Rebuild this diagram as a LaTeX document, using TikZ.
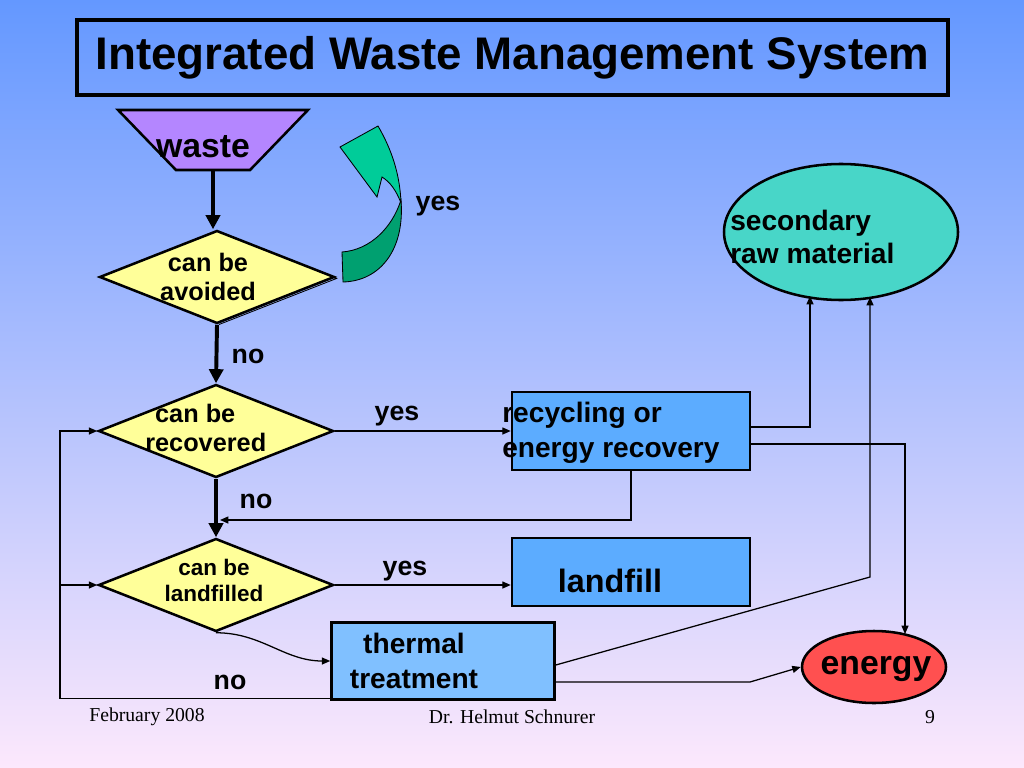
\documentclass[tikz,border=0pt]{standalone}
\usepackage{fontspec}
\setmainfont{Liberation Sans}
\newfontfamily\footfont{Liberation Serif}
\usetikzlibrary{shapes,arrows.meta,calc,positioning}

\newlength\px
\setlength\px{0.025cm}
\newcommand{\fsize}[2]{\fontsize{#1}{#2}\selectfont}

\definecolor{bgtop}{RGB}{100,152,255}
\definecolor{bgmid}{RGB}{196,198,250}
\definecolor{bgbot}{RGB}{252,232,252}
\definecolor{wastepurple}{RGB}{180,134,255}
\definecolor{dyellow}{RGB}{255,255,153}
\definecolor{boxblue}{RGB}{92,172,255}
\definecolor{thermblue}{RGB}{128,192,255}
\definecolor{rawgreen}{RGB}{72,214,200}
\definecolor{energyred}{RGB}{255,80,80}
\definecolor{arrowlight}{RGB}{0,204,153}
\definecolor{arrowdark}{RGB}{0,160,112}

\begin{document}
\begin{tikzpicture}[x=\px, y=-\px,
decision/.style={draw, diamond, fill=dyellow, line width=1.8pt, minimum width=235\px, minimum height=93\px, inner sep=0pt},
box/.style={draw, rectangle, line width=1.8pt, fill=boxblue, minimum width=238\px, minimum height=78\px},
dtext/.style={font=\fsize{18pt}{21pt}\bfseries, align=center, inner sep=0pt},
btext/.style={font=\fsize{20pt}{25pt}\bfseries, align=left, inner sep=0pt},
lbl/.style={font=\fsize{19pt}{21pt}\bfseries, inner sep=0pt},
foot/.style={font=\footfont\fsize{14pt}{16pt}, inner sep=0pt},
flow/.style={line width=2.8pt, -{Triangle[length=10pt,width=10pt]}},
link/.style={line width=0.9pt, -{Triangle[length=6pt,width=5pt]}}
]
  % background
  \fill[top color=bgtop, middle color=bgmid, bottom color=bgbot] (0,0) rectangle (1024,768);

  \node [draw, line width=2.2pt, minimum width=871\px, minimum height=75\px,
    font=\fsize{32.5pt}{36pt}\bfseries] (title) at (512.5,57.5) {Integrated Waste Management System};

  \node [draw, trapezium, shape border rotate=180, trapezium angle=52, trapezium stretches=true,
    fill=wastepurple, line width=1.8pt, minimum width=190\px, minimum height=60\px] (waste) at (213,140) {};
  \node [font=\fsize{24pt}{26pt}\bfseries, inner sep=0pt] (wastet) at (203,147) {waste};

  % decisions
  \draw[line width=0.6pt] (219,231.5) -- (336.5,278.5) -- (219,324.5);
  \node [decision] (d1) at (217,277) {};
  \node [dtext] (d1t) at (208,277) {can be\\avoided};
  \node [decision] (d2) at (216,431) {};
  \node [dtext, align=left, anchor=west] (d2t) at (145,428) {\hspace*{7pt}can be\\recovered};
  \node [decision] (d3) at (216,585) {};
  \node [dtext, font=\fsize{16pt}{18.5pt}\bfseries] (d3t) at (214,580) {can be\\landfilled};

  % boxes
  \node [box] (rec) at (631,431) {};
  \node [btext, anchor=west] (rect) at (502,433) {recycling or\\energy recovery};
  \node [box, minimum height=68\px] (lnd) at (631,572) {};
  \node [btext, font=\fsize{23pt}{25pt}\bfseries] (lndt) at (610,581) {landfill};
  \node [box, fill=thermblue, minimum width=223\px, minimum height=77\px] (thr) at (443,661) {};
  \node [btext, align=center] (thrt) at (414,661) {thermal\\treatment};

  % results
  \node [draw, ellipse, fill=rawgreen, line width=1.8pt, minimum width=234\px, minimum height=136\px] (sec) at (841,232) {};
  \node [btext, font=\fsize{20pt}{23.5pt}\bfseries, anchor=west] (sect) at (730,237) {secondary\\raw material};
  \node [draw, ellipse, fill=energyred, line width=1.8pt, minimum width=144\px, minimum height=72\px] (en) at (874,667) {};
  \node [btext, font=\fsize{24pt}{26pt}\bfseries] (ent) at (876,669) {energy};

  % green turn arrow
  \draw[fill=arrowlight, line width=0.6pt] (340,147) -- (378,126) .. controls (392,150) and (400,175) .. (401,203)
    .. controls (396,190) and (390,182) .. (382,177) -- (377,197) -- cycle;
  \draw[fill=arrowdark, line width=0.6pt] (401,200) .. controls (405,250) and (380,281) .. (343,282) -- (342,252)
    .. controls (370,250) and (392,228) .. (401,200) -- cycle;

  % main flow
  \draw[flow] (waste.south) -- (waste.south |- d1.north);
  \draw[flow] (d1.south) -- (d2.north);
  \draw[flow] (d2.south) -- (d3.north);
  \coordinate (join) at (220,520);
  \coordinate (loop) at (60,698);

  \draw[link] (d2.east) -- (d2.east -| rec.west);
  \draw[link] (d3.east) -- (d3.east -| lnd.west);
  \draw[link] (rec.south) |- (join);
  \draw[link] (d3.south) to[out=0, in=180] (thr.west);
  \draw[link] ($(thr.south west)+(0,-2)$) -| (loop |- d2.west) -- (d2.west);
  \draw[link] (loop |- d3.west) -- (d3.west);

  \draw[link] ($(rec.east)+(0,-4)$) -| ($(sec.center)+(-31,64)$);
  \draw[link] ($(rec.east)+(0,13)$) -| ($(en.center)+(31,-33)$);
  \draw[link] ($(thr.east)+(0,4)$) -- (870,577) -- ($(sec.center)+(29,65)$);
  \draw[link] ($(thr.east)+(0,21)$) -- (750,682) -- (en.west);

  % labels
  \node [lbl] (yes1) at (438,206) {yes};
  \node [lbl] (no1) at (248,356) {no};
  \node [lbl] (yes2) at (397,416) {yes};
  \node [lbl] (no2) at (256,501) {no};
  \node [lbl] (yes3) at (405,571) {yes};
  \node [lbl] (no3) at (230,682) {no};

  % footer
  \node [foot] (date) at (147,717) {February 2008};
  \node [foot] (author) at (512,717) {Dr. Helmut Schnurer};
  \node [foot] (page) at (930,717) {9};
\end{tikzpicture}
\end{document}
